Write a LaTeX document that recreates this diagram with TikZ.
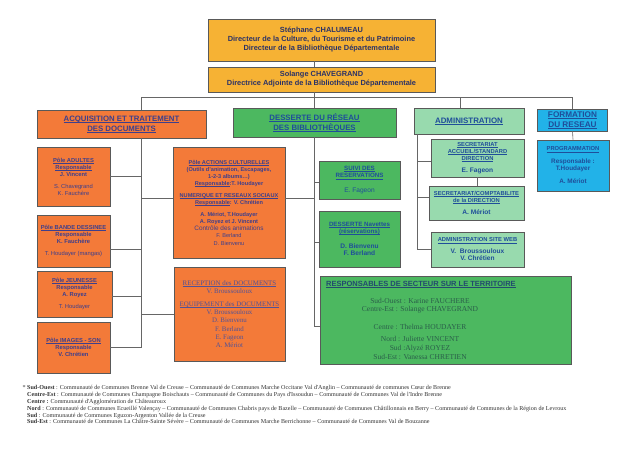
\documentclass[tikz,border=0pt]{standalone}
\usepackage{fontspec}
\setmainfont{Liberation Sans}
\newfontfamily\timesfont{Liberation Serif}
\usepackage{xcolor}
\usepackage{tikz}
\usetikzlibrary{positioning}

\definecolor{gold}{HTML}{F6B234}
\definecolor{orng}{HTML}{F37A39}
\definecolor{grn}{HTML}{4CB860}
\definecolor{mint}{HTML}{98DAAE}
\definecolor{skyb}{HTML}{22B2E8}
\definecolor{ink}{HTML}{3E3F8C}
\definecolor{navy}{HTML}{2B3266}
\definecolor{dblue}{HTML}{1F4E9A}
\definecolor{dteal}{HTML}{2A5E4A}

\newcommand\ulin[1]{\setbox0=\hbox{#1}\rlap{\rule[-0.9pt]{\wd0}{0.35pt}}\box0}

\begin{document}
\begin{tikzpicture}[x=1pt,y=-1pt,
  box/.style={draw=black!65,line width=0.7pt,align=center,inner sep=1pt,text=ink,font=\bfseries\fontsize{5.8}{7}\selectfont},
  chief/.style={box,fill=gold,text=navy,font=\bfseries\fontsize{7.4}{9}\selectfont},
  head/.style={font=\bfseries\fontsize{7.8}{10}\selectfont},
  acqbox/.style={box,fill=orng},
  serifbox/.style={box,fill=orng,text=ink!90,font=\timesfont\fontsize{6.9}{8.2}\selectfont},
  desbox/.style={box,fill=grn,text=dblue},
  admbox/.style={box,fill=mint,text=dblue},
  frmbox/.style={box,fill=skyb,text=dblue},
  link/.style={draw=black!60,line width=0.6pt},
  notes/.style={anchor=north west,align=left,inner sep=0pt,text=black!80,font=\timesfont\fontsize{6.1}{6.8}\selectfont}
]
\fill[white,use as bounding box] (0,0) rectangle (636,450);

\node[chief,minimum width=227,minimum height=42] (dir) at (321.5,40)
  {Stéphane CHALUMEAU\\Directeur de la Culture, du Tourisme et du Patrimoine\\Directeur de la Bibliothèque Départementale};
\node[chief,minimum width=227,minimum height=25] (adj) at (321.5,79.5)
  {Solange CHAVEGRAND\\Directrice Adjointe de la Bibliothèque Départementale};

\node[acqbox,head,minimum width=169,minimum height=28] (acq) at (121.5,124)
  {\ulin{ACQUISITION ET TRAITEMENT}\\\ulin{DES DOCUMENTS}};
\node[acqbox,font=\bfseries\fontsize{5.8}{7}\selectfont,minimum width=73,minimum height=59] (adultes) at (73.5,176.5)
  {\ulin{Pôle ADULTES}\\\ulin{Responsable}\\J. Vincent\\[5pt]\mdseries S. Chavegrand\\\mdseries K. Fauchère};
\node[acqbox,font=\bfseries\fontsize{5.8}{7}\selectfont,minimum width=73,minimum height=52] (bd) at (73.5,241)
  {\ulin{Pôle BANDE DESSINEE}\\Responsable\\K. Fauchère\\[5pt]\mdseries T. Houdayer (mangas)};
\node[acqbox,font=\bfseries\fontsize{5.8}{7}\selectfont,minimum width=75,minimum height=46] (jeun) at (74.5,294)
  {\ulin{Pôle JEUNESSE}\\Responsable\\A. Royez\\[5pt]\mdseries T. Houdayer};
\node[acqbox,font=\bfseries\fontsize{5.8}{7}\selectfont,minimum width=73,minimum height=51] (imgson) at (73.5,347.5)
  {\ulin{Pôle IMAGES - SON}\\Responsable\\V. Chrétien};
\node[acqbox,font=\bfseries\fontsize{5.6}{7.1}\selectfont,minimum width=112,minimum height=111] (actcult) at (229,202.5)
  {\ulin{Pôle ACTIONS CULTURELLES}\\(Outils d'animation, Escapages,\\1-2-3 albums…)\\\ulin{Responsable} :T. Houdayer\\[5pt]
   \ulin{NUMERIQUE ET RESEAUX SOCIAUX}\\\ulin{Responsable} : V. Chrétien\\[5pt]
   A. Mériot, T.Houdayer\\A. Royez et J. Vincent\\\mdseries\fontsize{6.4}{7.2}\selectfont Contrôle des animations\\\mdseries F. Berland\\\mdseries D. Bienvenu};
\node[serifbox,minimum width=111,minimum height=94] (recep) at (229.5,314)
  {\ulin{RECEPTION des DOCUMENTS}\\V. Broussouloux\\[5pt]\ulin{EQUIPEMENT des DOCUMENTS}\\V. Broussouloux\\D. Bienvenu\\F. Berland\\E. Fageon\\A. Mériot};

\node[desbox,head,minimum width=163,minimum height=29] (des) at (314.5,122.5)
  {\ulin{DESSERTE DU RÉSEAU}\\\ulin{DES BIBLIOTHÈQUES}};
\node[desbox,font=\bfseries\fontsize{6.2}{7.5}\selectfont,minimum width=81,minimum height=38] (suivi) at (359.5,180)
  {\ulin{SUIVI DES}\\\ulin{RESERVATIONS}\\[7pt]\mdseries\fontsize{6.6}{7.5}\selectfont E. Fageon};
\node[desbox,font=\bfseries\fontsize{6.2}{7.5}\selectfont,minimum width=81,minimum height=56] (navet) at (359.5,239)
  {\ulin{DESSERTE Navettes}\\\ulin{(réservations)}\\[7pt]\fontsize{6.6}{8}\selectfont D. Bienvenu\\\fontsize{6.6}{8}\selectfont F. Berland};
\node[box,fill=grn,minimum width=251,minimum height=88] (resp) at (445.5,320) {};
\node[anchor=west,inner sep=0pt,text=dteal!80!blue,font=\bfseries\fontsize{7.5}{8}\selectfont] (resptitle) at (326,284)
  {\ulin{RESPONSABLES DE SECTEUR SUR LE TERRITOIRE}};
\node[align=center,inner sep=0pt,text=dteal,font=\timesfont\fontsize{7.5}{8.6}\selectfont] (respnames) at (420,328.5)
  {Sud-Ouest : Karine FAUCHERE\\Centre-Est : Solange CHAVEGRAND\\[9pt]Centre : Thelma HOUDAYER\\[4pt]Nord : Juliette VINCENT\\Sud :Alyzé ROYEZ\\Sud-Est : Vanessa CHRETIEN};

\node[admbox,font=\bfseries\fontsize{7.9}{9}\selectfont,minimum width=110,minimum height=26] (adm) at (469,121)
  {\ulin{ADMINISTRATION}};
\node[admbox,minimum width=93,minimum height=38] (secac) at (477.5,158)
  {\ulin{SECRETARIAT}\\\ulin{ACCUEIL/STANDARD}\\\ulin{DIRECTION}\\[5pt]\fontsize{6.6}{7}\selectfont E. Fageon};
\node[admbox,minimum width=95,minimum height=34] (secco) at (476.5,203)
  {\ulin{SECRETARIAT/COMPTABILITE}\\\ulin{de la DIRECTION}\\[5pt]\fontsize{6.6}{7}\selectfont A. Mériot};
\node[admbox,minimum width=93,minimum height=35] (web) at (477.5,249.5)
  {\ulin{ADMINISTRATION SITE WEB}\\[5pt]\fontsize{6.6}{7.5}\selectfont V.~~Broussouloux\\\fontsize{6.6}{7.5}\selectfont V. Chrétien};

\node[frmbox,font=\bfseries\fontsize{8.2}{10}\selectfont,minimum width=70,minimum height=22] (form) at (572.5,120)
  {\ulin{FORMATION}\\\ulin{DU RESEAU}};
\node[frmbox,minimum width=72,minimum height=51] (prog) at (573,165.5)
  {\ulin{PROGRAMMATION}\\[6pt]\fontsize{6.4}{7}\selectfont Responsable :\\\fontsize{6.4}{7}\selectfont T.Houdayer\\[6pt]\fontsize{6.4}{7}\selectfont A. Mériot};

\coordinate (acqtop) at (141,97);
\coordinate (admtop) at (460,97);
\coordinate (admsp) at (417,134);

\draw[link] (dir.south -| des) -- (adj.north -| des);
\draw[link] (adj.south -| des) -- (des.north);
\draw[link] (acqtop) -- (acqtop -| form.north) -- (form.north);
\draw[link] (acqtop) -- (acqtop |- acq.north);
\draw[link] (admtop) -- (admtop |- adm.north);

\draw[link] (acq.south -| acqtop) |- (imgson.east);
\draw[link] (adultes.east) -- (adultes.east -| acqtop);
\draw[link] ([yshift=-8pt]bd.east) -- ([yshift=-8pt]bd.east -| acqtop);
\draw[link] ([yshift=-2pt]jeun.east) -- ([yshift=-2pt]jeun.east -| acqtop);
\draw[link] ([yshift=4.5pt]actcult.west -| acqtop) -- ([yshift=4.5pt]actcult.west);
\draw[link] (recep.west -| acqtop) -- (recep.west);

\draw[link] (des.south) |- ([yshift=-6pt]resp.west);
\draw[link] ([yshift=4.5pt]actcult.east) -- ([yshift=4.5pt]actcult.east -| des);
\draw[link] ([yshift=-2pt]suivi.west -| des) -- ([yshift=-2pt]suivi.west);
\draw[link] ([yshift=-3pt]navet.west -| des) -- ([yshift=-3pt]navet.west);

\draw[link] (admsp) |- (web.west);
\draw[link] ([yshift=-3pt]secac.west -| admsp) -- ([yshift=-3pt]secac.west);
\draw[link] ([yshift=6pt]secco.west -| admsp) -- ([yshift=6pt]secco.west);
\draw[link] (secac.south) -- (secac.south |- secco.north);

\draw[link] (form.south) -- (prog.north);

\node[notes] (footnote) at (27,385.5)
  {\llap{* }\textbf{Sud-Ouest} : Communauté de Communes Brenne Val de Creuse – Communauté de Communes Marche Occitane Val d'Anglin – Communauté de communes Cœur de Brenne\\
   \textbf{Centre-Est} : Communauté de Communes Champagne Boischauts – Communauté de Communes du Pays d'Issoudun – Communauté de Communes Val de l'Indre Brenne\\
   \textbf{Centre :} Communauté d'Agglomération de Châteauroux\\
   \textbf{Nord} : Communauté de Communes Ecueillé Valençay – Communauté de Communes Chabris pays de Bazelle – Communauté de Communes Châtillonnais en Berry – Communauté de Communes de la Région de Levroux\\
   \textbf{Sud} : Communauté de Communes Eguzon-Argenton Vallée de la Creuse\\
   \textbf{Sud-Est} : Communauté de Communes La Châtre-Sainte Sévère – Communauté de Communes Marche Berrichonne – Communauté de Communes Val de Bouzanne};
\end{tikzpicture}
\end{document}
